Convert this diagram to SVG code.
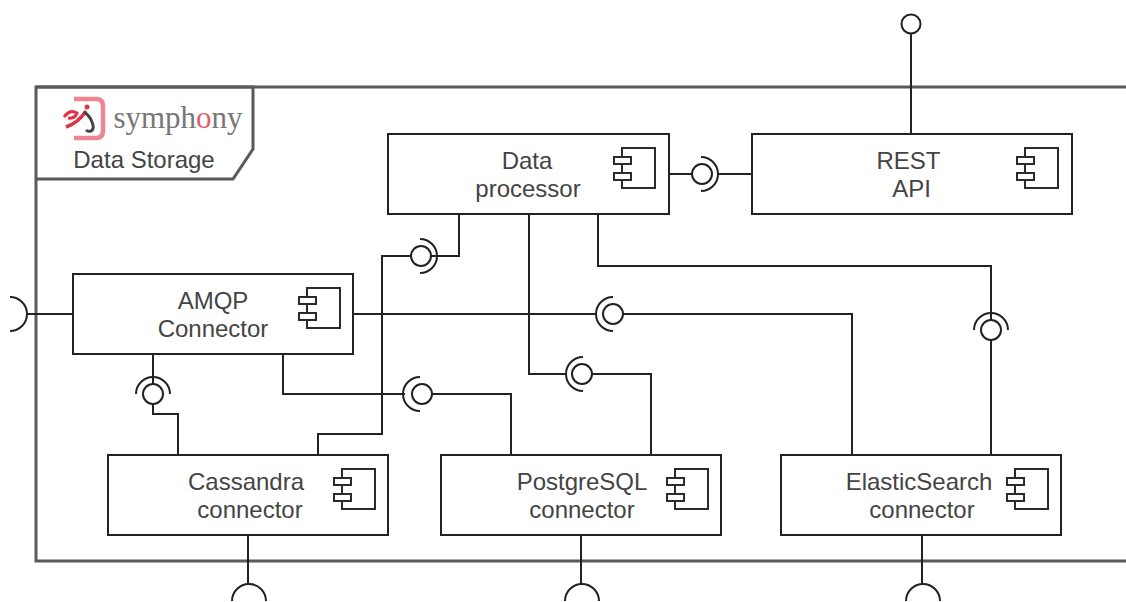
<svg xmlns="http://www.w3.org/2000/svg" width="1126" height="602" viewBox="0 0 1126 602">
<style>
.box{fill:#fff;stroke:#222;stroke-width:2}
.ic{fill:#fff;stroke:#2a2a2a;stroke-width:2}
.ln{fill:none;stroke:#222;stroke-width:2}
.frame{fill:none;stroke:#5a5a5a;stroke-width:3}
.ball{fill:#fff;stroke:#222;stroke-width:2}
text{font-family:"Liberation Sans",Arial,sans-serif;font-size:24px;fill:#444;text-anchor:middle}
</style>
<defs>
<g id="ci">
<rect class="ic" x="-46" y="14" width="33" height="40"/>
<rect class="ic" x="-54" y="23" width="17" height="7"/>
<rect class="ic" x="-54" y="39" width="17" height="7"/>
</g>
</defs>
<rect width="1126" height="602" fill="#fff"/>
<g id="frame">
<path class="frame" d="M1126 87H36V561H1126"/>
<path class="frame" d="M36 87H253V149L233 179H36"/>
<g id="logo">
<path d="M74 99H96Q103 99 103 106V131Q103 138 96 138H74" fill="none" stroke="#ee8592" stroke-width="4.5"/>
<path d="M64 117Q70 109 77 113Q75 119 68 118" fill="none" stroke="#dc3545" stroke-width="3"/>
<path d="M66 127Q78 123 86 111" fill="none" stroke="#dc3545" stroke-width="3.5"/>
<circle cx="87" cy="107" r="2.5" fill="#dc3545"/>
<path d="M84 112Q90 116 92 122Q95 129 91 131Q88 132 86 130" fill="none" stroke="#444" stroke-width="3"/>
<text x="178" y="128" style="font-family:'Liberation Serif',serif;font-size:31px;fill:#777">symph<tspan fill="#e0606f">o</tspan>ny</text>
</g>
<text x="144" y="168">Data Storage</text>
</g>
<g id="connectors">
<path class="ln" d="M911 33V134"/>
<path class="ln" d="M669 174H692M718 174H752"/>
<path class="ln" d="M459 214V256H431M411 256H382V434H318V455"/>
<path class="ln" d="M153 354V384M153 404V414H178V455"/>
<path class="ln" d="M283 354V394H405M432 394H511V455"/>
<path class="ln" d="M353 314H597M623 314H852V455"/>
<path class="ln" d="M529 214V374H566M592 374H651V455"/>
<path class="ln" d="M598 214V266H991V320M991 340V455"/>
<path class="ln" d="M27 314H73"/>
<path class="ln" d="M248 535V584M581 535V584M922 535V584"/>
<g id="sockets">
<path class="ln" d="M701 157A17 17 0 0 1 701 191"/>
<path class="ln" d="M420 239A17 17 0 0 1 420 273"/>
<path class="ln" d="M136 394A17 17 0 0 1 170 394"/>
<path class="ln" d="M420 377A17 17 0 0 0 420 411"/>
<path class="ln" d="M613 297A17 17 0 0 0 613 331"/>
<path class="ln" d="M583 357A17 17 0 0 0 583 391"/>
<path class="ln" d="M974 330A17 17 0 0 1 1008 330"/>
<path class="ln" d="M10 297A17 17 0 0 1 10 331"/>
<path class="ln" d="M232 601A17 17 0 0 1 266 601"/>
<path class="ln" d="M565 601A17 17 0 0 1 599 601"/>
<path class="ln" d="M906 601A17 17 0 0 1 940 601"/>
</g>
<g id="balls">
<circle class="ball" cx="911" cy="24" r="9.5"/>
<circle class="ball" cx="702" cy="174" r="10"/>
<circle class="ball" cx="421" cy="256" r="10"/>
<circle class="ball" cx="153" cy="394" r="10"/>
<circle class="ball" cx="422" cy="394" r="10"/>
<circle class="ball" cx="613" cy="314" r="10"/>
<circle class="ball" cx="582" cy="374" r="10"/>
<circle class="ball" cx="991" cy="330" r="10"/>
</g>
</g>
<g id="data-processor">
<rect class="box" x="388" y="134" width="281" height="80"/>
<use href="#ci" x="668" y="134"/>
<text x="527" y="169">Data</text><text x="528" y="197">processor</text>
</g>
<g id="rest-api">
<rect class="box" x="752" y="134" width="320" height="80"/>
<use href="#ci" x="1071" y="134"/>
<text x="908.500" y="169">REST</text><text x="911.500" y="197">API</text>
</g>
<g id="amqp-connector">
<rect class="box" x="73" y="274" width="280" height="80"/>
<use href="#ci" x="353" y="274"/>
<text x="213" y="309">AMQP</text><text x="213" y="337">Connector</text>
</g>
<g id="cassandra-connector">
<rect class="box" x="108" y="455" width="280" height="80"/>
<use href="#ci" x="388" y="455"/>
<text x="246" y="490">Cassandra</text><text x="250" y="518">connector</text>
</g>
<g id="postgresql-connector">
<rect class="box" x="441" y="455" width="280" height="80"/>
<use href="#ci" x="721" y="455"/>
<text x="582" y="490">PostgreSQL</text><text x="582" y="518">connector</text>
</g>
<g id="elasticsearch-connector">
<rect class="box" x="781" y="455" width="280" height="80"/>
<use href="#ci" x="1061" y="455"/>
<text x="919" y="490">ElasticSearch</text><text x="922" y="518">connector</text>
</g>
</svg>
